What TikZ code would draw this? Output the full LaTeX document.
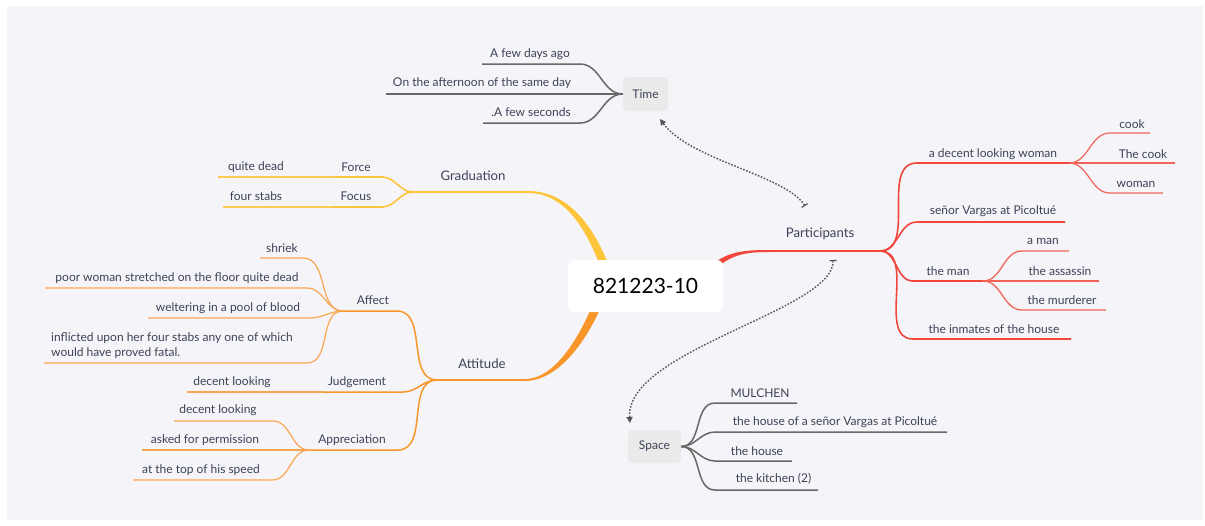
\documentclass[tikz,border=0pt]{standalone}
\usepackage{fontspec}
\setmainfont{Lato}
\usetikzlibrary{arrows.meta}
\definecolor{bgc}{RGB}{245,245,249}
\definecolor{ink}{RGB}{60,67,86}
\definecolor{yel}{RGB}{255,197,58}
\definecolor{yell}{RGB}{255,205,80}
\definecolor{org}{RGB}{248,150,42}
\definecolor{orgl}{RGB}{250,165,80}
\definecolor{redc}{RGB}{240,70,60}
\definecolor{redl}{RGB}{242,100,90}
\definecolor{grl}{RGB}{104,104,104}
\definecolor{boxc}{RGB}{234,234,234}
\definecolor{dotc}{RGB}{85,85,85}
\tikzset{
  txt/.style={text=ink, inner sep=0pt, yshift=-1.2pt, font=\fontsize{12}{14.5}\selectfont},
  topic/.style={text=ink, inner sep=0pt, yshift=-1.2pt, font=\fontsize{13.2}{15}\selectfont},
  ybr/.style={draw=yel, line width=1.8pt},
  ythin/.style={draw=yell, line width=1.3pt},
  obr/.style={draw=org, line width=1.8pt},
  othin/.style={draw=orgl, line width=1.2pt},
  rbr/.style={draw=redc, line width=1.8pt},
  rthin/.style={draw=redl, line width=1.2pt},
  gbr/.style={draw=grl, line width=1.5pt},
  lft/.style={out=180, in=0},
  rgt/.style={out=0, in=180},
  graybox/.style={fill=boxc, rounded corners=4pt, text=ink, inner sep=0pt, font=\fontsize{12}{14.5}\selectfont},
  relation/.style={draw=dotc, line width=1.4pt, dash pattern=on 1.6pt off 1.6pt,
    {Bar[width=7pt,line width=1.2pt]}-{Triangle[length=6pt,width=6pt]}},
}
\begin{document}
\begin{tikzpicture}[x=1pt,y=-1pt]
\useasboundingbox (0,0) rectangle (1205,525);
\fill[white] (0,0) rectangle (1205,525);
\fill[bgc] (7,6) rectangle (1203,520);

% ---------- tapered main branches (drawn under the root box)
\fill[yel] (528,191) .. controls (566,191) and (594,223) .. (612,274)
  -- (604,277) .. controls (587,227) and (564,193) .. (528,193) -- cycle;
\fill[org] (607,291) .. controls (593,333) and (561,381) .. (525,381)
  -- (525,379) .. controls (558,379) and (585,328) .. (599,288) -- cycle;
\fill[redc] (711,265) .. controls (729,251) and (745,250) .. (770,250)
  -- (770,252) .. controls (746,252) and (732,254) .. (714,270) -- cycle;

% ---------- root
\node[fill=white, rounded corners=6pt, minimum width=155pt, minimum height=52pt,
  inner sep=0pt, font=\fontsize{21}{25}\selectfont, text=black] (root) at (645.5,286) {821223-10};

% ---------- Graduation
\coordinate (gradR) at (528,192);
\coordinate (gradJ) at (413,192);
\draw[ybr] (gradR) -- (gradJ);
\node[topic] (grad) at (473,174) {Graduation};
\coordinate (forceR) at (382,177); \coordinate (forceL) at (335,177); \coordinate (qdL) at (218,177);
\coordinate (focusR) at (382,207); \coordinate (focusL) at (333,207); \coordinate (fsL) at (223,207);
\draw[ybr, line width=1.6pt] (gradJ) to[lft] (forceR) -- (forceL);
\draw[ybr, line width=1.6pt] (gradJ) to[lft] (focusR) -- (focusL);
\draw[ythin] (forceL) -- (qdL);
\draw[ythin] (focusL) -- (fsL);
\node[txt] (force) at (356,166) {Force};
\node[txt] (focus) at (356,195) {Focus};
\node[txt] (qd) at (256,166) {quite dead};
\node[txt] (fs) at (256,195) {four stabs};

% ---------- Attitude
\coordinate (attR) at (525,380);
\coordinate (attJ) at (437,380);
\draw[obr] (attR) -- (attJ);
\node[topic] (att) at (482,362) {Attitude};
% Affect
\coordinate (affR) at (397,311); \coordinate (affL) at (343,311);
\draw[obr, line width=1.5pt] (attJ) to[lft] (affR) -- (affL);
\node[txt] (affect) at (373,299) {Affect};
\coordinate (shR) at (303,258); \coordinate (shL) at (260,258);
\coordinate (pwR) at (307,288); \coordinate (pwL) at (45,288);
\coordinate (weR) at (310,318); \coordinate (weL) at (148,318);
\coordinate (inR) at (307,363); \coordinate (inL) at (44,363);
\draw[othin] (affL) to[lft] (shR) -- (shL);
\draw[othin] (affL) to[lft] (pwR) -- (pwL);
\draw[othin] (affL) to[lft] (weR) -- (weL);
\draw[othin] (affL) to[lft] (inR) -- (inL);
\node[txt] (shriek) at (282,247) {shriek};
\node[txt] (poor) at (177,277) {poor woman stretched on the floor quite dead};
\node[txt] (welt) at (228,307) {weltering in a pool of blood};
\node[txt, align=left, anchor=west] (infl) at (51,344.5) {inflicted upon her four stabs any one of which\\would have proved fatal.};
% Judgement
\coordinate (judR) at (403,392); \coordinate (judL) at (324,392); \coordinate (dl1L) at (187,392);
\draw[obr, line width=1.5pt] (attJ) to[lft] (judR) -- (judL);
\draw[othin] (judL) -- (dl1L);
\node[txt] (judg) at (357,381) {Judgement};
\node[txt] (dl1) at (232,381) {decent looking};
% Appreciation
\coordinate (appR) at (398,450); \coordinate (appL) at (309,450);
\draw[obr, line width=1.5pt] (attJ) to[lft] (appR) -- (appL);
\node[txt] (appr) at (352,439) {Appreciation};
\coordinate (dl2R) at (273,421); \coordinate (dl2L) at (174,421);
\coordinate (afpL) at (142,450);
\coordinate (topR) at (272,480); \coordinate (topL) at (133,480);
\draw[othin] (appL) to[lft] (dl2R) -- (dl2L);
\draw[othin] (appL) -- (afpL);
\draw[othin] (appL) to[lft] (topR) -- (topL);
\node[txt] (dl2) at (218,409) {decent looking};
\node[txt] (afp) at (205,439) {asked for permission};
\node[txt] (top) at (201,469) {at the top of his speed};

% ---------- Time
\node[graybox, minimum width=45pt, minimum height=34pt] (time) at (645.5,94) {Time};
\coordinate (fdR) at (580,64); \coordinate (fdL) at (482,64);
\coordinate (afL) at (386,94);
\coordinate (fsecR) at (580,123); \coordinate (fsecL) at (483,123);
\draw[gbr] (time.west) to[lft] (fdR) -- (fdL);
\draw[gbr] (time.west) -- (afL);
\draw[gbr] (time.west) to[lft] (fsecR) -- (fsecL);
\node[txt] (fewdays) at (530,53) {A few days ago};
\node[txt] (aftern) at (482,82) {On the afternoon of the same day};
\node[txt] (fewsec) at (531,111) {.A few seconds};

% ---------- Participants
\coordinate (partL) at (768,251);
\coordinate (partJ) at (880,251);
\draw[rbr] (partL) -- (partJ);
\node[topic] (part) at (820,233) {Participants};
\coordinate (dwL) at (917,163); \coordinate (dwR) at (1069,163);
\coordinate (svL) at (917,222); \coordinate (svR) at (1065,222);
\coordinate (tmL) at (913,281); \coordinate (tmR) at (983,281);
\coordinate (ihL) at (913,339); \coordinate (ihR) at (1071,339);
\draw[rbr, line width=1.6pt] (partJ) to[rgt] (dwL) -- (dwR);
\draw[rbr, line width=1.6pt] (partJ) to[rgt] (svL) -- (svR);
\draw[rbr, line width=1.6pt] (partJ) to[rgt] (tmL) -- (tmR);
\draw[rbr, line width=1.6pt] (partJ) to[rgt] (ihL) -- (ihR);
\node[txt] (dw) at (993,153) {a decent looking woman};
\node[txt] (sv) at (993,210) {señor Vargas at Picoltué};
\node[txt] (tm) at (948,270) {the man};
\node[txt] (ih) at (994,328) {the inmates of the house};
% woman's names
\coordinate (ckL) at (1110,133); \coordinate (ckR) at (1150,133);
\coordinate (tcR) at (1175,163);
\coordinate (wmL) at (1110,193); \coordinate (wmR) at (1163,193);
\draw[rthin] (dwR) to[rgt] (ckL) -- (ckR);
\draw[rthin] (dwR) -- (tcR);
\draw[rthin] (dwR) to[rgt] (wmL) -- (wmR);
\node[txt] (cook) at (1132,123) {cook};
\node[txt] (thecook) at (1143,153) {The cook};
\node[txt] (woman) at (1136,183) {woman};
% man's names
\coordinate (amL) at (1022,251); \coordinate (amR) at (1069,251);
\coordinate (asR) at (1099,281);
\coordinate (muL) at (1022,310); \coordinate (muR) at (1106,310);
\draw[rthin, line width=1.3pt] (tmR) to[rgt] (amL) -- (amR);
\draw[rthin, line width=1.3pt] (tmR) -- (asR);
\draw[rthin, line width=1.3pt] (tmR) to[rgt] (muL) -- (muR);
\node[txt] (aman) at (1043,240) {a man};
\node[txt] (assassin) at (1060,270) {the assassin};
\node[txt] (murderer) at (1062,299) {the murderer};

% ---------- Space
\node[graybox, minimum width=53pt, minimum height=33pt] (space) at (654.5,446.5) {Space};
\coordinate (muchL) at (715,403); \coordinate (muchR) at (797,403);
\coordinate (hsL) at (715,432); \coordinate (hsR) at (947,432);
\coordinate (thL) at (715,461); \coordinate (thR) at (792,461);
\coordinate (kiL) at (715,490); \coordinate (kiR) at (818,490);
\draw[gbr] (space.east) to[rgt] (muchL) -- (muchR);
\draw[gbr] (space.east) to[rgt] (hsL) -- (hsR);
\draw[gbr] (space.east) to[rgt] (thL) -- (thR);
\draw[gbr] (space.east) to[rgt] (kiL) -- (kiR);
\node[txt] (mulchen) at (760,392) {MULCHEN};
\node[txt] (hseñor) at (835,421) {the house of a señor Vargas at Picoltué};
\node[txt] (thouse) at (757,450) {the house};
\node[txt] (kitchen) at (772,478) {\ the kitchen (2)};

% ---------- relations
\coordinate (relPT) at (805,206);
\coordinate (relT) at (660,119);
\coordinate (relPS) at (833,260);
\coordinate (relS) at (630,423);
\draw[relation] (relPT) .. controls (785,175) and (690,160) .. (relT);
\draw[relation] (relPS) .. controls (835,310) and (625,350) .. (relS);
\end{tikzpicture}
\end{document}
